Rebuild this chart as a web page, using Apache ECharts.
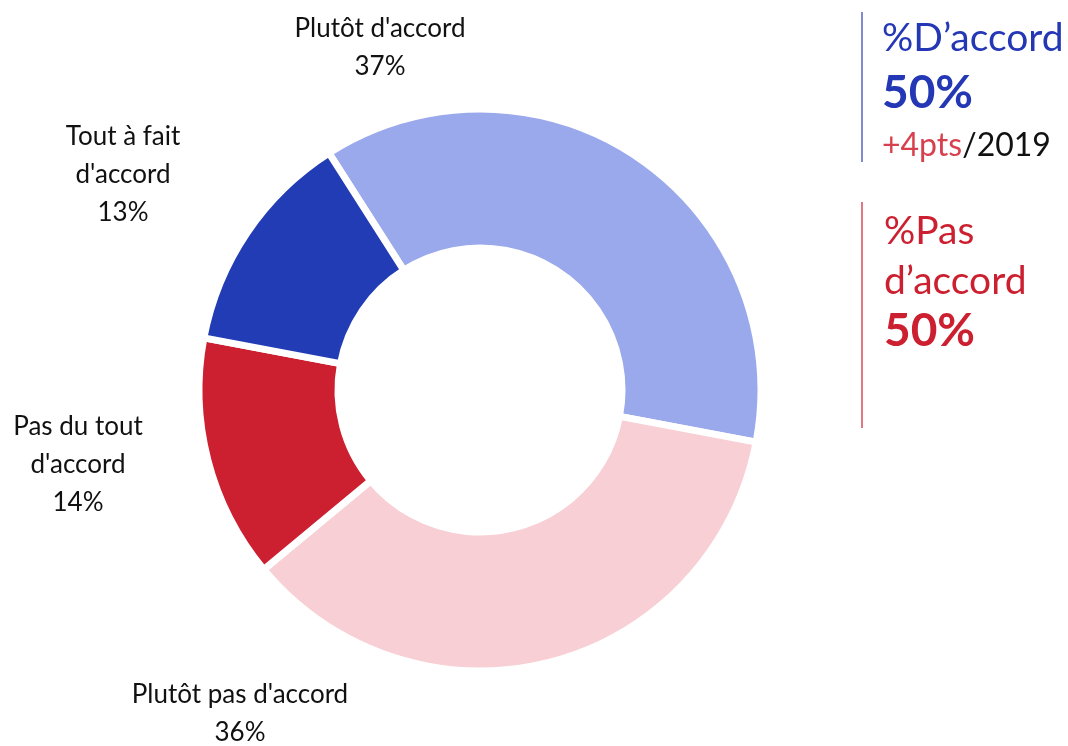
<!DOCTYPE html>
<html>
<head>
<meta charset="utf-8">
<script src="https://cdn.jsdelivr.net/npm/echarts@6/dist/echarts.min.js"></script>
<style>html,body{margin:0;padding:0;background:#fff}#c{width:1068px;height:746px}</style>
</head>
<body>
<div id="c"></div>
<script>
const categories = ["Plutôt d'accord", "Plutôt pas d'accord", "Pas du tout d'accord", "Tout à fait d'accord"];
const labelTexts = ["Plutôt d'accord", "Plutôt pas d'accord", "Pas du tout\nd'accord", "Tout à fait\nd'accord"];
const values = [37, 36, 14, 13];
const colors = ['#9AA9EC', '#F7CFD4', '#CC1F2F', '#213CB4'];
const labelPos = [[380, 48], [240, 714], [78, 465], [123, 175]];
const agreeTitle = '%D\u2019accord', agreeValue = '50%', agreeDelta = '+4pts', agreeRef = '/2019';
const disagreeTitle = '%Pas\nd\u2019accord', disagreeValue = '50%';

const FONT = 'Lato';
const chart = echarts.init(document.getElementById('c'));
chart.setOption({
  animation: false,
  series: [{
    type: 'pie',
    center: [480, 390],
    radius: [142, 281],
    startAngle: 122.5,
    clockwise: true,
    data: categories.map((n, i) => ({ name: n, value: values[i], itemStyle: { color: colors[i] } })),
    itemStyle: { borderColor: '#fff', borderWidth: 7 },
    label: {
      show: true,
      position: 'outside',
      formatter: p => labelTexts[p.dataIndex] + '\n' + p.value + '%',
      fontFamily: FONT,
      fontSize: 26,
      lineHeight: 38,
      color: '#111',
      align: 'center'
    },
    labelLine: { show: false },
    labelLayout: p => ({ x: labelPos[p.dataIndex][0], y: labelPos[p.dataIndex][1], align: 'center', verticalAlign: 'middle' }),
    emphasis: { disabled: true }
  }],
  graphic: [
    { type: 'line', shape: { x1: 862, y1: 12, x2: 862, y2: 162 }, style: { stroke: '#2B3CB0', lineWidth: 1.2 } },
    { type: 'text', left: 882, top: 19, style: { text: agreeTitle, fill: '#2438B5', font: '400 39px ' + FONT } },
    { type: 'text', left: 882, top: 70, style: { text: agreeValue, fill: '#2438B5', font: 'bold 46px ' + FONT } },
    { type: 'text', left: 882, top: 130, style: {
        text: '{r|' + agreeDelta + '}{k|' + agreeRef + '}',
        rich: { r: { fill: '#D8404E', font: '400 32px ' + FONT }, k: { fill: '#111', font: '400 32px ' + FONT } } } },
    { type: 'line', shape: { x1: 862, y1: 202, x2: 862, y2: 428 }, style: { stroke: '#CC1F2F', lineWidth: 1.2 } },
    { type: 'text', left: 884, top: 206, style: { text: disagreeTitle, fill: '#CC1F2F', font: '400 39px ' + FONT, lineHeight: 50 } },
    { type: 'text', left: 884, top: 308, style: { text: disagreeValue, fill: '#CC1F2F', font: 'bold 46px ' + FONT } }
  ]
});
</script>
</body>
</html>
